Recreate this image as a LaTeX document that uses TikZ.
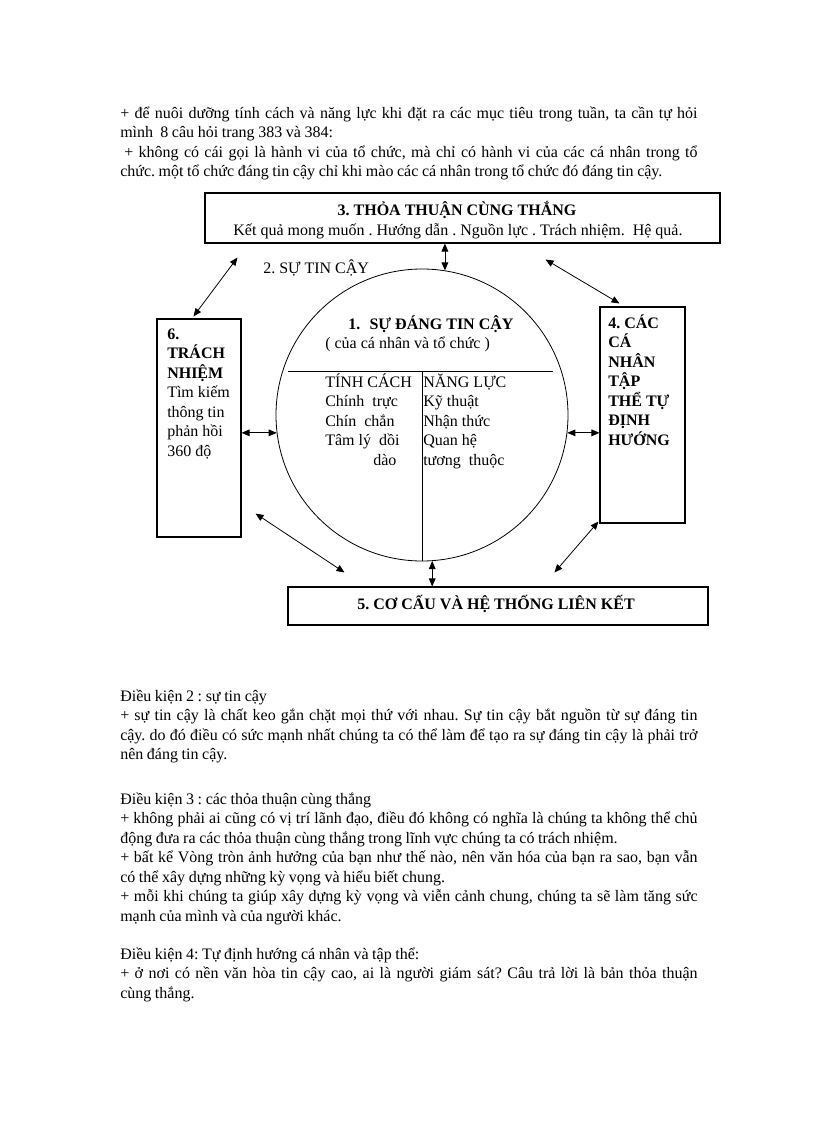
\documentclass[tikz,border=0pt]{standalone}
\usepackage{fontspec}
\setmainfont{Liberation Serif}
\usetikzlibrary{arrows.meta,fit,calc}
\setlength{\parindent}{0pt}
\newcommand{\jline}[1]{\makebox[433pt][s]{#1}}
\newcommand{\tops}{\rule{0pt}{12pt}}
\newcommand{\tightsp}{\spaceskip=2.7pt plus 4pt minus 0.5pt\relax\xspaceskip=\spaceskip}
\newcommand{\bodyfont}{\fontsize{12}{14.6}\selectfont\lineskiplimit=-20pt\frenchspacing}
\tikzset{
  box/.style={draw, line width=0.8pt, inner sep=0pt},
  link/.style={{Triangle[width=5pt,length=6pt]}-{Triangle[width=5pt,length=6pt]}, line width=0.6pt},
  txt/.style={inner sep=0pt, font=\bodyfont},
  stack/.style={txt, anchor=north west, align=left},
  bstack/.style={stack, font=\bodyfont\bfseries},
  para/.style={txt, anchor=north west, text width=433pt, align=left}
}
\begin{document}
\begin{tikzpicture}[x=0.75pt,y=-0.75pt]
\path[use as bounding box, fill=white] (0,0) rectangle (816,1123);

\node[para] (intro) at (120,102) {\tightsp\tops\jline{+ để nuôi dưỡng tính cách và năng lực khi đặt ra các mục tiêu trong tuần, ta cần tự hỏi}\\
\mbox{mình\ \ 8 câu hỏi trang 383 và 384:}\\
\jline{\hspace*{3pt}+ không có cái gọi là hành vi của tổ chức, mà chỉ có hành vi của các cá nhân trong tổ}\\
\mbox{chức. một tổ chức đáng tin cậy chỉ khi mào các cá nhân trong tổ chức đó đáng tin cậy.}};

\node[box, fit={(205,193) (720,243)}] (agree) {};
\node[txt, anchor=base] (agreet) at (457,216) {\textbf{3. THỎA THUẬN CÙNG THẮNG}};
\node[txt, anchor=base] (agrees) at (458,235) {Kết quả mong muốn . Hướng dẫn . Nguồn lực . Trách nhiệm.\ \ Hệ quả.};

\node[txt, anchor=base west] (trust) at (263,273) {2. SỰ TIN CẬY};
\node[circle, draw, line width=0.6pt, minimum size=219pt, inner sep=0pt] (core) at (422,415) {};
\draw[line width=0.6pt] (288,371) -- (553,371);
\draw[line width=0.6pt] (core.south |- 0,371) -- (core.south);
\node[txt, anchor=base west] (coret) at (348,329) {\textbf{1.\hspace{7pt}SỰ ĐÁNG TIN CẬY}};
\node[txt, anchor=base west] (cores) at (325,348) {( của cá nhân và tổ chức )};
\node[stack] (charc) at (325,371) {\tops TÍNH CÁCH\\Chính\ \ trực\\Chín\ \ chắn\\Tâm lý\ \ dồi\\\hspace*{36pt}dào};
\node[stack] (compc) at (423,371) {\tops NĂNG LỰC\\Kỹ thuật\\Nhận thức\\Quan hệ\\tương\ \ thuộc};

\node[box, fit={(157,319) (241,537)}] (resp) {};
\node[stack] (respt) at (167,323) {\tops\textbf{6.}\\\textbf{TRÁCH}\\\textbf{NHIỆM}\\Tìm kiếm\\thông tin\\phản hồi\\360 độ};

\node[box, fit={(600,307) (685,523)}] (self) {};
\node[bstack] (selft) at (608,312) {\tops 4. CÁC\\CÁ\\NHÂN\\TẬP\\THỂ TỰ\\ĐỊNH\\HƯỚNG};

\node[box, fit={(288,587) (708,625)}] (struct) {};
\node[txt, anchor=base] (structt) at (496,609) {\textbf{5. CƠ CẤU VÀ HỆ THỐNG LIÊN KẾT}};

\draw[link] (core.81) -- (core.81 |- agree.south);
\draw[link] ($(agree.south west)+(33,14)$) -- ($(resp.north west)+(37,-2)$);
\draw[link] ($(agree.south east)+(-175,16)$) -- ($(self.north west)+(20,-3)$);
\draw[link] (core.187 -| resp.east) -- (core.187);
\draw[link] (core.353) -- (core.353 -| self.west);
\draw[link] ($(resp.south east)+(14,-24)$) -- ($(struct.north west)+(57,-14)$);
\draw[link] ($(self.south west)+(-1,-2)$) -- ($(struct.north west)+(267,-14)$);
\draw[link] (core.274) -- (core.274 |- struct.north);

\node[para] (cond2) at (120,685) {\tightsp\tops Điều kiện 2 : sự tin cậy\\
\jline{+ sự tin cậy là chất keo gắn chặt mọi thứ với nhau. Sự tin cậy bắt nguồn từ sự đáng tin}\\
\jline{cậy. do đó điều có sức mạnh nhất chúng ta có thể làm để tạo ra sự đáng tin cậy là phải trở}\\
nên đáng tin cậy.};

\node[para] (cond3) at (120,788) {\tightsp\tops Điều kiện 3 : các thỏa thuận cùng thắng\\
\jline{+ không phải ai cũng có vị trí lãnh đạo, điều đó không có nghĩa là chúng ta không thể chủ}\\
\mbox{động đưa ra các thỏa thuận cùng thắng trong lĩnh vực chúng ta có trách nhiệm.}\\
\jline{+ bất kể Vòng tròn ảnh hưởng của bạn như thế nào, nên văn hóa của bạn ra sao, bạn vẫn}\\
có thể xây dựng những kỳ vọng và hiểu biết chung.\\
\jline{+ mỗi khi chúng ta giúp xây dựng kỳ vọng và viễn cảnh chung, chúng ta sẽ làm tăng sức}\\
mạnh của mình và của người khác.};

\node[para] (cond4) at (120,943) {\tightsp\tops Điều kiện 4: Tự định hướng cá nhân và tập thể:\\
\jline{+ ở nơi có nền văn hòa tin cậy cao, ai là người giám sát? Câu trả lời là bản thỏa thuận}\\
cùng thắng.};
\end{tikzpicture}
\end{document}
